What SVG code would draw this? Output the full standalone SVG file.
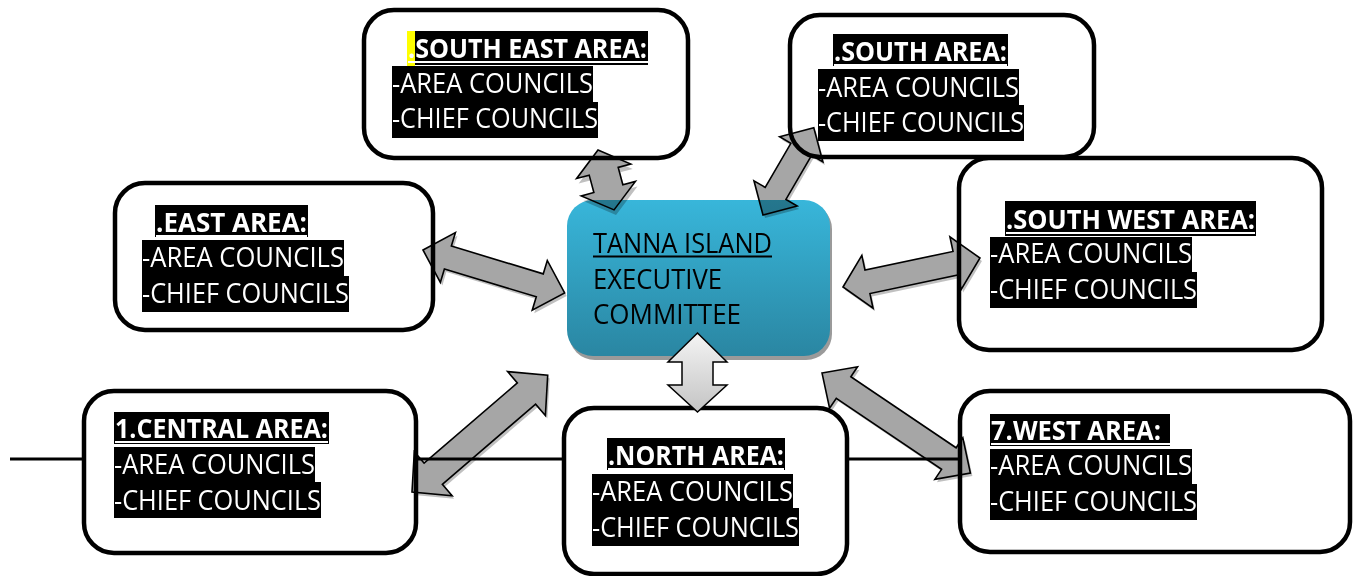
<svg xmlns="http://www.w3.org/2000/svg" xmlns:xlink="http://www.w3.org/1999/xlink" width="1360" height="576" viewBox="0 0 1360 576">
<style>
.box{fill:none;stroke:#000;stroke-width:4.5}
.hl{fill:#000}
.t{font-family:"Open Sans","Noto Sans",sans-serif;font-size:27px;fill:#fff}
.tb{font-family:"Open Sans","Noto Sans",sans-serif;font-size:26px;font-weight:bold;fill:#fff}
.ul{stroke:#fff;stroke-width:2}
.arrow{fill:#a6a6a6;stroke:#000;stroke-width:1.6;stroke-linejoin:miter}
.ash{fill:#8c8c8c;opacity:0.55}
.line{stroke:#000;stroke-width:3}
.ct{font-family:"Open Sans","Noto Sans",sans-serif;font-size:27px;fill:#000}
</style>
<defs>
<linearGradient id="gc" x1="0" y1="0" x2="0" y2="1">
<stop offset="0" stop-color="#38b6da"/>
<stop offset="1" stop-color="#2a86a2"/>
</linearGradient>
<linearGradient id="gn" x1="0" y1="0" x2="0" y2="1">
<stop offset="0" stop-color="#f4f4f4"/>
<stop offset="1" stop-color="#c4c4c4"/>
</linearGradient>
<path id="aE" d="M0,0 L26,-26 L26,-12 L122,-12 L122,-26 L148,0 L122,26 L122,12 L26,12 L26,26 Z"/>
<path id="aSW" d="M0,0 L25,-27 L25,-12 L115,-12 L115,-27 L140,0 L115,27 L115,12 L25,12 L25,27 Z"/>
<path id="aW" d="M0,0 L26,-25 L26,-13 L153,-13 L153,-25 L179,0 L153,25 L153,13 L26,13 L26,25 Z"/>
<path id="aC" d="M0,0 L28,-29 L28,-14 L151,-14 L151,-29 L179,0 L151,29 L151,14 L28,14 L28,29 Z"/>
<path id="aS" d="M0,0 L25,-25 L25,-12 L76,-12 L76,-25 L101,0 L76,25 L76,12 L25,12 L25,25 Z"/>
<path id="aSE" d="M0,0 L22,-28 L22,-15 L40,-15 L40,-28 L62,0 L40,28 L40,15 L22,15 L22,28 Z"/>
</defs>
<rect width="1360" height="576" fill="#fff"/>

<g id="connectors">
<use href="#aE" class="ash" transform="translate(425,253) rotate(16.85)"/>
<use href="#aE" class="arrow" transform="translate(423,250) rotate(16.85)"/>
<use href="#aSW" class="ash" transform="translate(845,290) rotate(-11.95)"/>
<use href="#aSW" class="arrow" transform="translate(843,287) rotate(-11.95)"/>
<use href="#aW" class="ash" transform="translate(824,376) rotate(34)"/>
<use href="#aW" class="arrow" transform="translate(822,373) rotate(34)"/>
<use href="#aC" class="ash" transform="translate(414,495) rotate(-40.7)"/>
<use href="#aC" class="arrow" transform="translate(412,492) rotate(-40.7)"/>
<use href="#aS" class="ash" transform="translate(765,218) rotate(-59.8)"/>
<use href="#aS" class="arrow" transform="translate(763,215) rotate(-59.8)"/>
<use href="#aSE" class="ash" transform="translate(600,155) rotate(75)"/>
<use href="#aSE" class="arrow" transform="translate(598,150) rotate(75)"/>
<line class="line" x1="10" y1="459" x2="84" y2="459"/>
<line class="line" x1="416" y1="459" x2="564" y2="459"/>
<line class="line" x1="847" y1="459" x2="962" y2="459"/>
</g>

<g id="center" style="mix-blend-mode:multiply">
<rect x="569" y="203" width="263" height="157" rx="26" fill="#9a9a9a"/>
<rect x="567" y="200" width="263" height="156" rx="26" fill="url(#gc)"/>
<text class="ct" x="593" y="253" textLength="179" lengthAdjust="spacingAndGlyphs">TANNA ISLAND</text>
<line x1="593" y1="256.5" x2="772" y2="256.5" stroke="#000" stroke-width="2"/>
<text class="ct" x="593" y="289" textLength="129" lengthAdjust="spacingAndGlyphs">EXECUTIVE</text>
<text class="ct" x="593" y="324" textLength="148" lengthAdjust="spacingAndGlyphs">COMMITTEE</text>
</g>

<g id="southeast">
<rect class="box" x="364" y="10" width="324" height="148" rx="30"/>
<rect x="407" y="31" width="8" height="36" fill="#ffff00"/>
<rect class="hl" x="415" y="31" width="233" height="34"/>
<text class="tb" x="408" y="58" textLength="239" lengthAdjust="spacingAndGlyphs">.SOUTH EAST AREA:</text>
<line class="ul" x1="408" y1="62" x2="648" y2="62"/>
<rect class="hl" x="392" y="66" width="201" height="36"/>
<text class="t" x="392" y="93" textLength="201" lengthAdjust="spacingAndGlyphs">-AREA COUNCILS</text>
<rect class="hl" x="392" y="102" width="206" height="36"/>
<text class="t" x="392" y="128" textLength="206" lengthAdjust="spacingAndGlyphs">-CHIEF COUNCILS</text>
</g>

<g id="south">
<rect class="box" x="790" y="15" width="304" height="142" rx="30"/>
<rect class="hl" x="833" y="34" width="175" height="32"/>
<text class="tb" x="834" y="61" textLength="173" lengthAdjust="spacingAndGlyphs">.SOUTH AREA:</text>
<line class="ul" x1="834" y1="65" x2="1007" y2="65"/>
<rect class="hl" x="818" y="69" width="201" height="36"/>
<text class="t" x="818" y="97" textLength="201" lengthAdjust="spacingAndGlyphs">-AREA COUNCILS</text>
<rect class="hl" x="818" y="105" width="206" height="36"/>
<text class="t" x="818" y="132" textLength="206" lengthAdjust="spacingAndGlyphs">-CHIEF COUNCILS</text>
</g>

<g id="east">
<rect class="box" x="115" y="183" width="318" height="147" rx="30"/>
<rect class="hl" x="155" y="205" width="153" height="32"/>
<text class="tb" x="156" y="232" textLength="151" lengthAdjust="spacingAndGlyphs">.EAST AREA:</text>
<line class="ul" x1="156" y1="236" x2="307" y2="236"/>
<rect class="hl" x="142" y="240" width="202" height="36"/>
<text class="t" x="142" y="267" textLength="202" lengthAdjust="spacingAndGlyphs">-AREA COUNCILS</text>
<rect class="hl" x="142" y="276" width="207" height="36"/>
<text class="t" x="142" y="303" textLength="207" lengthAdjust="spacingAndGlyphs">-CHIEF COUNCILS</text>
</g>

<g id="southwest">
<rect class="box" x="959" y="158" width="363" height="192" rx="30"/>
<rect class="hl" x="1005" y="201" width="251" height="35"/>
<text class="tb" x="1006" y="229" textLength="249" lengthAdjust="spacingAndGlyphs">.SOUTH WEST AREA:</text>
<line class="ul" x1="1006" y1="233" x2="1255" y2="233"/>
<rect class="hl" x="990" y="237" width="202" height="35"/>
<text class="t" x="990" y="263" textLength="202" lengthAdjust="spacingAndGlyphs">-AREA COUNCILS</text>
<rect class="hl" x="990" y="272" width="207" height="36"/>
<text class="t" x="990" y="299" textLength="207" lengthAdjust="spacingAndGlyphs">-CHIEF COUNCILS</text>
</g>

<g id="central">
<rect class="box" x="84" y="391" width="332" height="162" rx="30"/>
<rect class="hl" x="114" y="412" width="215" height="32"/>
<text class="tb" x="115" y="438" textLength="213" lengthAdjust="spacingAndGlyphs">1.CENTRAL AREA:</text>
<line class="ul" x1="115" y1="442" x2="328" y2="442"/>
<rect class="hl" x="114" y="447" width="201" height="35"/>
<text class="t" x="114" y="474" textLength="201" lengthAdjust="spacingAndGlyphs">-AREA COUNCILS</text>
<rect class="hl" x="114" y="482" width="207" height="36"/>
<text class="t" x="114" y="510" textLength="207" lengthAdjust="spacingAndGlyphs">-CHIEF COUNCILS</text>
</g>

<g id="north">
<rect class="box" x="564" y="408" width="283" height="166" rx="30"/>
<rect class="hl" x="607" y="438" width="178" height="32"/>
<text class="tb" x="608" y="465" textLength="176" lengthAdjust="spacingAndGlyphs">.NORTH AREA:</text>
<line class="ul" x1="608" y1="469" x2="784" y2="469"/>
<rect class="hl" x="592" y="474" width="201" height="34"/>
<text class="t" x="592" y="501" textLength="201" lengthAdjust="spacingAndGlyphs">-AREA COUNCILS</text>
<rect class="hl" x="592" y="508" width="207" height="38"/>
<text class="t" x="592" y="537" textLength="207" lengthAdjust="spacingAndGlyphs">-CHIEF COUNCILS</text>
</g>

<g id="west">
<rect class="box" x="960" y="391" width="390" height="161" rx="30"/>
<rect class="hl" x="990" y="414" width="180" height="32"/>
<text class="tb" x="991" y="440" textLength="170" lengthAdjust="spacingAndGlyphs">7.WEST AREA:</text>
<line class="ul" x1="991" y1="444" x2="1170" y2="444"/>
<rect class="hl" x="990" y="449" width="202" height="35"/>
<text class="t" x="990" y="475" textLength="202" lengthAdjust="spacingAndGlyphs">-AREA COUNCILS</text>
<rect class="hl" x="990" y="484" width="207" height="36"/>
<text class="t" x="990" y="511" textLength="207" lengthAdjust="spacingAndGlyphs">-CHIEF COUNCILS</text>
</g>

<g id="connector-north">
<path d="M697.5,333 L727,362 L713,362 L713,385 L727,385 L697.5,412 L668,385 L682,385 L682,362 L668,362 Z" fill="url(#gn)" stroke="#000" stroke-width="1.5"/>
</g>
</svg>
